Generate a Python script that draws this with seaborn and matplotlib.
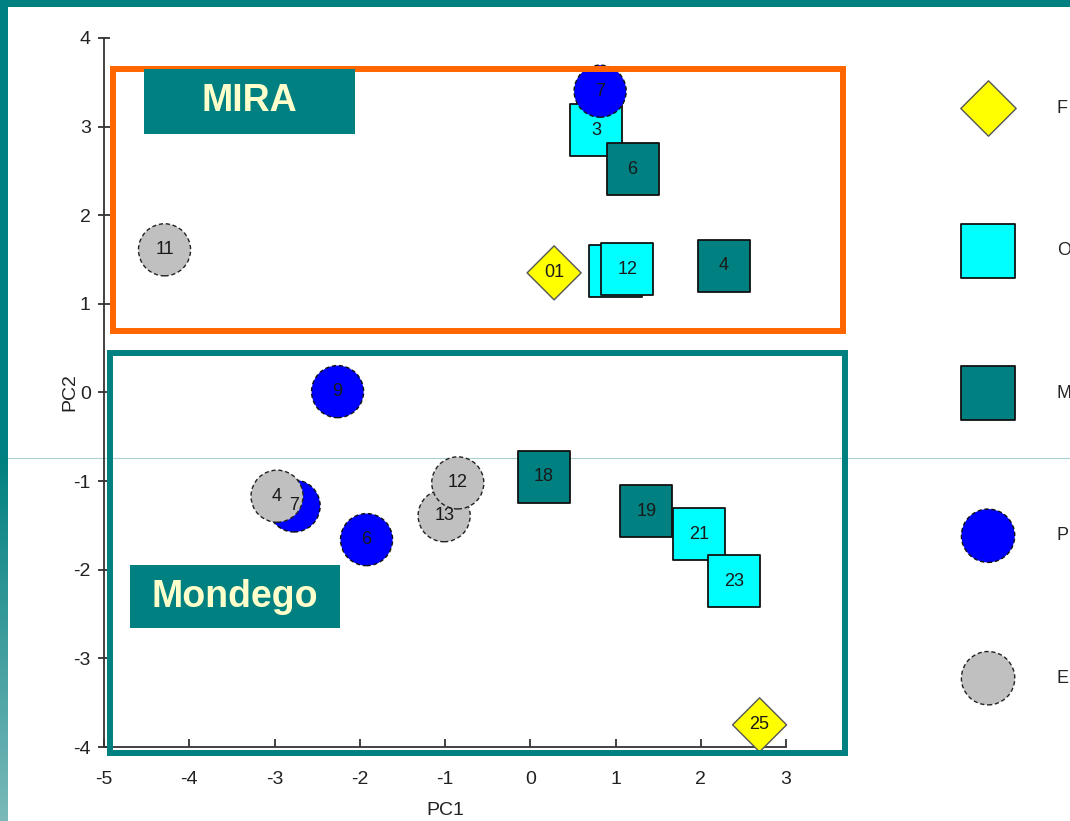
import numpy as np
import pandas as pd
import matplotlib
matplotlib.use("Agg")
import matplotlib.pyplot as plt
import seaborn as sns
from matplotlib.patches import Rectangle
from matplotlib.lines import Line2D

# ---- PCA scores (rows listed in drawing order) ----
group = ["E", "F", "O", "P", "M", "O", "O", "M",
         "P", "P", "E", "P", "E", "E", "M", "M", "O", "O", "F"]
sample = ["11", "01", "3", "7", "6", "", "12", "4",
          "9", "7", "4", "6", "13", "12", "18", "19", "21", "23", "25"]
pc1 = [-4.29, 0.28, 0.77, 0.82, 1.20, 1.00, 1.14, 2.27,
       -2.26, -2.77, -2.97, -1.92, -1.01, -0.85, 0.16, 1.36, 1.98, 2.39, 2.69]
pc2 = [1.61, 1.35, 2.96, 3.40, 2.52, 1.37, 1.39, 1.43,
       0.01, -1.28, -1.17, -1.66, -1.39, -1.02, -0.95, -1.34, -1.60, -2.13, -3.75]

legend_groups = ["F", "O", "M", "P", "E"]
x_ticks = [-5, -4, -3, -2, -1, 0, 1, 2, 3]
y_ticks = [-4, -3, -2, -1, 0, 1, 2, 3, 4]

# region frames: (name, x0, y0, x1, y1, colour) and their title boxes
regions = [("MIRA", -4.89, 0.69, 3.67, 3.65, "#FF6600"),
           ("Mondego", -4.93, -4.07, 3.69, 0.45, "#008080")]
title_boxes = [("MIRA", -4.53, 2.92, -2.06, 3.65),
               ("Mondego", -4.70, -2.66, -2.23, -1.95)]

colors = {"F": "#FFFF00", "O": "#00FFFF", "M": "#008080", "P": "#0000FF", "E": "#C0C0C0"}
markers = {"F": "D", "O": "s", "M": "s", "P": "o", "E": "o"}
sizes = {"F": 27.5 ** 2, "O": 37.5 ** 2, "M": 37.5 ** 2, "P": 37.5 ** 2, "E": 37.5 ** 2}
edge_col = {"F": "#555555", "O": "#111111", "M": "#111111", "P": "#111111", "E": "#222222"}
edge_ls = {"F": "-", "O": "-", "M": "-", "P": (0, (3, 2)), "E": (0, (3, 2))}
edge_lw = {"F": 1.0, "O": 1.3, "M": 1.3, "P": 1.0, "E": 1.0}

TEAL = "#008080"

sns.set_style("ticks")
plt.rcParams["font.family"] = ["Liberation Sans", "DejaVu Sans"]
plt.rcParams["axes.unicode_minus"] = False

df = pd.DataFrame({"pc1": pc1, "pc2": pc2, "group": group, "sample": sample})

fig = plt.figure(figsize=(10.70, 8.21), dpi=100)
fig.patch.set_facecolor("white")
ax = fig.add_axes([104 / 1070, 74 / 821, 682 / 1070, 709 / 821])

sns.scatterplot(data=df, x="pc1", y="pc2", hue="group", style="group", size="group",
                palette=colors, markers=markers, sizes=sizes,
                hue_order=legend_groups, style_order=legend_groups, size_order=legend_groups,
                legend=False, ax=ax, clip_on=False, zorder=3)
coll = ax.collections[0]
coll.set_edgecolors([edge_col[g] for g in df["group"]])
coll.set_linestyles([edge_ls[g] for g in df["group"]])
coll.set_linewidths([edge_lw[g] for g in df["group"]])

for _, r in df.iterrows():
    ax.text(r.pc1, r.pc2, r["sample"], ha="center", va="center",
            fontsize=13, color="#1a1a1a", zorder=4)

ax.set_xlim(-5, 3)
ax.set_ylim(-4, 4)
ax.set_xticks(x_ticks)
ax.set_yticks(y_ticks)
sns.despine(ax=ax)
for s in ("left", "bottom"):
    ax.spines[s].set_linewidth(1.3)
    ax.spines[s].set_color("#333333")
ax.tick_params(axis="x", direction="in", length=6, width=1.3, color="#333333",
               pad=17, labelsize=14, labelcolor="#222222")
ax.tick_params(axis="y", direction="inout", length=9, width=1.3, color="#333333",
               pad=5, labelsize=14, labelcolor="#222222")
ax.set_xlabel("PC1", fontsize=14, color="#222222")
ax.set_ylabel("PC2", fontsize=14, color="#222222")
ax.xaxis.set_label_coords(0.5, -0.077)
ax.yaxis.set_label_coords(-0.038, 0.5)
ax.set_facecolor("none")

# region frames and their titles
for name, x0, y0, x1, y1, c in regions:
    ax.add_patch(Rectangle((x0, y0), x1 - x0, y1 - y0, fill=False, edgecolor=c,
                           linewidth=4.3, clip_on=False, zorder=6))
for name, x0, y0, x1, y1 in title_boxes:
    ax.add_patch(Rectangle((x0, y0), x1 - x0, y1 - y0, facecolor=TEAL, edgecolor="none",
                           clip_on=False, zorder=7))
    ax.text((x0 + x1) / 2, (y0 + y1) / 2, name, ha="center", va="center",
            fontsize=27, fontweight="bold", color="#FFFFCC", zorder=8)

# legend
handles = []
for g in legend_groups:
    h = ax.scatter([], [], marker=markers[g], s=sizes[g] * 1.05, c=colors[g],
                   edgecolors=edge_col[g], linewidths=edge_lw[g], linestyle=edge_ls[g])
    handles.append(h)
fig.legend(handles, legend_groups, loc="upper left",
           bbox_to_anchor=(961 / 1070, 1 - 100 / 821), frameon=False,
           fontsize=13, scatterpoints=1, handlelength=3.0, handletextpad=2.3,
           labelspacing=6.95, borderpad=0, borderaxespad=0)

# slide decoration: top bar, left bar with gradient, thin rule
fig.add_artist(Rectangle((0, 1 - 7 / 821), 1, 7 / 821, transform=fig.transFigure,
                         facecolor=TEAL, edgecolor="none", zorder=10))
fig.add_artist(Rectangle((0, 1 - 458 / 821), 8 / 1070, 458 / 821, transform=fig.transFigure,
                         facecolor=TEAL, edgecolor="none", zorder=10))
gax = fig.add_axes([0, 0, 8 / 1070, (821 - 458) / 821], zorder=10)
grad = np.linspace(0, 1, 256).reshape(-1, 1)
cmap = matplotlib.colors.LinearSegmentedColormap.from_list("bar", [TEAL, "#7ab9b9"])
gax.imshow(grad, aspect="auto", cmap=cmap, origin="upper")
gax.set_axis_off()
fig.add_artist(Line2D([0, 1], [1 - 458 / 821, 1 - 458 / 821], transform=fig.transFigure,
                      color="#a6d4d4", linewidth=0.8, zorder=-1))

fig.savefig("out.png", dpi=100)
